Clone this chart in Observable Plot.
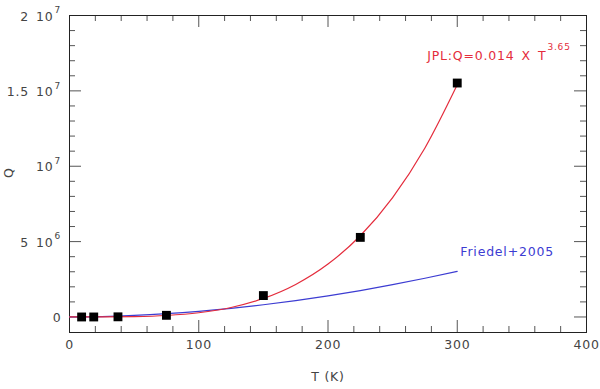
<!DOCTYPE html>
<html><head><meta charset="utf-8">
<script src="https://cdn.jsdelivr.net/npm/d3@7"></script>
<script src="https://cdn.jsdelivr.net/npm/@observablehq/plot@0.6"></script>
<style>body{margin:0;background:#fff;}</style>
</head><body><div id="chart"></div>
<script>
// JPL catalogue partition-function points (T in K, Q)
const jplT = [9.375, 18.75, 37.5, 75, 150, 225, 300];
const jplQ = [0, 0, 10000, 110000, 1420000, 5280000, 15520000];

// Red curve: JPL fit Q = 0.014 x T^3.65
const fitT = [0, 25, 50, 75, 100, 125, 150, 175, 200, 225, 250, 275, 300];
const fitQ = [0, 1800, 22000, 98000, 279000, 630000, 1230000, 2160000, 3510000, 5390000, 7920000, 11210000, 15400000];

// Blue curve: Friedel+2005
const friedelT = [0, 25, 50, 75, 100, 125, 150, 175, 200, 225, 250, 275, 300];
const friedelQ = [0, 27000, 100000, 217000, 375000, 574000, 811000, 1087000, 1401000, 1753000, 2141000, 2567000, 3030000];

// Axes
const xMajorTicks = [0, 100, 200, 300, 400];
const xTickLabels = ["0", "100", "200", "300", "400"];
const xMinorTicks = d3.range(0, 401, 20).filter(v => v % 100 !== 0);
const yMajorTicks = [0, 5e6, 1e7, 1.5e7, 2e7];
const yTickMantissa = ["0", "5\u200210", "10", "1.5\u200210", "2\u200210"];
const yTickExponent = ["", "6", "7", "7", "7"];
const yMinorTicks = d3.range(1e6, 2e7, 1e6).filter(v => Math.round(v / 1e6) % 5 !== 0);

const xLabel = "T (K)";
const yLabel = "Q";
const fitLabel = "JPL:Q=0.014\u2002X\u2002T";
const fitLabelExp = "3.65";
const friedelLabel = "Friedel+2005";

const W = 600, H = 389, mL = 69, mR = 14, mT = 15, mB = 57;
const plotW = W - mL - mR, plotH = H - mT - mB;
const MAJ = 12, MIN = 6;
const tickColor = "#555";
const textColor = "#444";
const red = "#e42c3c";
const blue = "#3c3cd2";

const jpl = jplT.map((t, i) => ({T: t, Q: jplQ[i]}));
const fit = fitT.map((t, i) => ({T: t, Q: fitQ[i]}));
const friedel = friedelT.map((t, i) => ({T: t, Q: friedelQ[i]}));
const yTicks = yMajorTicks.map((v, i) => ({v, m: yTickMantissa[i], e: yTickExponent[i]}));
const xTicks = xMajorTicks.map((v, i) => ({v, s: xTickLabels[i]}));

const chart = Plot.plot({
  width: W, height: H,
  marginLeft: mL, marginRight: mR, marginTop: mT, marginBottom: mB,
  x: {domain: [0, 400], axis: null},
  y: {domain: [-1.03e6, 2e7], axis: null},
  style: {fontFamily: "DejaVu Sans", fontSize: "12.5px", letterSpacing: "0.8px", background: "#fff"},
  marks: [
    // inward ticks on all four sides
    Plot.tickX(xMajorTicks, {x: d => d, stroke: tickColor, insetTop: plotH - MAJ}),
    Plot.tickX(xMajorTicks, {x: d => d, stroke: tickColor, insetBottom: plotH - MAJ}),
    Plot.tickX(xMinorTicks, {x: d => d, stroke: tickColor, insetTop: plotH - MIN}),
    Plot.tickX(xMinorTicks, {x: d => d, stroke: tickColor, insetBottom: plotH - MIN}),
    Plot.tickY(yMajorTicks, {y: d => d, stroke: tickColor, insetRight: plotW - MAJ}),
    Plot.tickY(yMajorTicks, {y: d => d, stroke: tickColor, insetLeft: plotW - MAJ}),
    Plot.tickY(yMinorTicks, {y: d => d, stroke: tickColor, insetRight: plotW - MIN}),
    Plot.tickY(yMinorTicks, {y: d => d, stroke: tickColor, insetLeft: plotW - MIN}),
    Plot.frame({stroke: "#222"}),
    // tick labels
    Plot.text(xTicks, {x: "v", text: "s", frameAnchor: "bottom", dy: 16, fill: textColor}),
    Plot.text(yTicks, {filter: d => d.e, y: "v", text: "m", frameAnchor: "left", textAnchor: "end",
      dx: -16, dy: 1, fill: textColor}),
    Plot.text(yTicks, {filter: d => !d.e, y: "v", text: "m", frameAnchor: "left", textAnchor: "end",
      dx: -8, dy: 1, fill: textColor}),
    Plot.text(yTicks, {filter: d => d.e, y: "v", text: "e", frameAnchor: "left", textAnchor: "start",
      dx: -15, dy: -5, fontSize: 9, fill: textColor}),
    // axis titles
    Plot.text([xLabel], {frameAnchor: "bottom", dy: 48, fill: textColor}),
    Plot.text([yLabel], {frameAnchor: "left", dx: -61, dy: 4, rotate: -90, fill: textColor}),
    // curves
    Plot.line(friedel, {x: "T", y: "Q", stroke: blue, strokeWidth: 1.2, curve: "monotone-x"}),
    Plot.line(fit, {x: "T", y: "Q", stroke: red, strokeWidth: 1.2, curve: "monotone-x"}),
    Plot.dot(jpl, {x: "T", y: "Q", symbol: "square", r: 5, fill: "black", stroke: "none"}),
    // annotations
    Plot.text([{T: 369, Q: 17.33e6}], {x: "T", y: "Q", text: () => fitLabel, textAnchor: "end", fill: red}),
    Plot.text([{T: 369, Q: 17.33e6}], {x: "T", y: "Q", text: () => fitLabelExp, textAnchor: "start", dx: 1, dy: -9, fontSize: 9, fill: red}),
    Plot.text([{T: 302.4, Q: 4.28e6}], {x: "T", y: "Q", text: () => friedelLabel, textAnchor: "start", fill: blue})
  ]
});
document.getElementById("chart").appendChild(chart);
</script>
</body></html>
